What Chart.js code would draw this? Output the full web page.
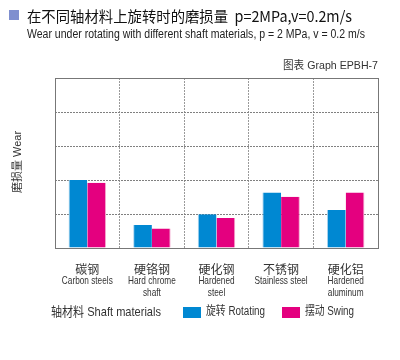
<!DOCTYPE html>
<html><head><meta charset="utf-8">
<script src="https://cdn.jsdelivr.net/npm/chart.js@4/dist/chart.umd.min.js"></script>
<style>html,body{margin:0;padding:0;background:#fff}canvas{display:block}</style>
</head><body><canvas id="c" width="400" height="360"></canvas>
<script>
// ---- data ----
const categoriesZh = ['碳钢', '硬铬钢', '硬化钢', '不锈钢', '硬化铝'];
const categoriesEn = [['Carbon steels'], ['Hard chrome', 'shaft'], ['Hardened', 'steel'], ['Stainless steel'], ['Hardened', 'aluminum']];
const rotating = [2.0, 0.68, 0.99, 1.63, 1.12];
const swing = [1.92, 0.57, 0.88, 1.51, 1.63];
const seriesNames = ['旋转 Rotating', '摆动 Swing'];
const yMin = 0, yMax = 5, yStep = 1;
const titleZh = '在不同轴材料上旋转时的磨损量  p=2MPa,v=0.2m/s';
const subtitle = 'Wear under rotating with different shaft materials, p = 2 MPa, v = 0.2 m/s';
const graphId = '图表 Graph EPBH-7';
const yTitle = '磨损量 Wear';
const xTitle = '轴材料 Shaft materials';

const BLUE = '#0088d2', PINK = '#e4007f';
const TXT = '#333';

function fitText(ctx, text, x, y, w, align) {
  const m = ctx.measureText(text).width;
  const s = w / m;
  ctx.save();
  ctx.textAlign = 'left';
  let x0 = align === 'right' ? x - w : (align === 'center' ? x - w / 2 : x);
  ctx.translate(x0, y);
  ctx.scale(s, 1);
  ctx.fillText(text, 0, 0);
  ctx.restore();
}
function narrowText(ctx, text, x, y, s) {
  ctx.save();
  ctx.translate(x, y);
  ctx.scale(s, 1);
  ctx.fillText(text, 0, 0);
  ctx.restore();
}

const decor = {
  id: 'decor',
  beforeDraw(chart) {
    const ctx = chart.ctx;
    ctx.save();
    ctx.fillStyle = '#fff';
    ctx.fillRect(0, 0, chart.width, chart.height);
    ctx.restore();
  },
  afterDraw(chart) {
    const ctx = chart.ctx;
    const a = chart.chartArea;
    const xs = chart.scales.x;
    ctx.save();
    // frame
    ctx.strokeStyle = '#777';
    ctx.lineWidth = 1;
    ctx.strokeRect(Math.round(a.left) + 0.5, Math.round(a.top) + 0.5, Math.round(a.right - a.left), Math.round(a.bottom - a.top));

    // title square
    ctx.fillStyle = '#7f8fcf';
    ctx.fillRect(9, 10, 10, 10);
    ctx.fillStyle = '#111';
    ctx.textBaseline = 'middle';
    ctx.font = "15px 'Noto Sans CJK SC'";
    fitText(ctx, titleZh, 27, 16, 325, 'left');
    ctx.fillStyle = '#222';
    ctx.font = "12px 'Liberation Sans Narrow','Liberation Sans'";
    fitText(ctx, subtitle, 27, 35, 338, 'left');
    ctx.fillStyle = TXT;
    ctx.font = "11px 'Liberation Sans Narrow','Liberation Sans','Noto Sans CJK SC'";
    fitText(ctx, graphId, 378, 66, 95, 'right');

    // y title
    ctx.save();
    ctx.translate(18, 162);
    ctx.rotate(-Math.PI / 2);
    ctx.font = "11px 'Liberation Sans Narrow','Liberation Sans','Noto Sans CJK SC'";
    ctx.textAlign = 'center';
    ctx.fillText(yTitle, 0, 0);
    ctx.restore();

    // x labels
    ctx.textAlign = 'center';
    categoriesZh.forEach((c, i) => {
      const x = xs.getPixelForValue(i);
      ctx.font = "12px 'Noto Sans CJK SC'";
      ctx.fillText(c, x, 269);
      ctx.font = "11px 'Liberation Sans Narrow','Liberation Sans'";
      categoriesEn[i].forEach((t, j) => narrowText(ctx, t, x, 281 + j * 12, 0.75));
    });

    // x title and legend
    ctx.textAlign = 'left';
    ctx.font = "13px 'Liberation Sans Narrow','Liberation Sans','Noto Sans CJK SC'";
    fitText(ctx, xTitle, 51, 312, 110, 'left');
    const leg = [[183, 206, 59], [282, 305, 49]];
    chart.data.datasets.forEach((ds, i) => {
      ctx.fillStyle = ds.backgroundColor;
      ctx.fillRect(leg[i][0], 307, 18, 11);
      ctx.fillStyle = TXT;
      ctx.font = "12px 'Liberation Sans Narrow','Liberation Sans','Noto Sans CJK SC'";
      fitText(ctx, ds.label, leg[i][1], 312, leg[i][2], 'left');
    });
    ctx.restore();
  }
};

new Chart(document.getElementById('c'), {
  type: 'bar',
  data: {
    labels: categoriesZh,
    datasets: [
      { label: seriesNames[0], data: rotating, backgroundColor: BLUE,
        borderColor: '#a9d3ee', borderWidth: { left: 1, top: 0, right: 0, bottom: 0 }, borderSkipped: false,
        barPercentage: 1, categoryPercentage: 0.58 },
      { label: seriesNames[1], data: swing, backgroundColor: PINK,
        borderColor: '#f3a6cc', borderWidth: { left: 0, top: 0, right: 1, bottom: 0 }, borderSkipped: false,
        barPercentage: 1, categoryPercentage: 0.58 }
    ]
  },
  options: {
    responsive: false,
    animation: false,
    events: [],
    layout: { padding: { left: 55, right: 22, top: 78, bottom: 112 } },
    plugins: { legend: { display: false }, tooltip: { enabled: false }, title: { display: false } },
    scales: {
      x: {
        ticks: { display: false },
        grid: { display: true, offset: true, color: '#9a9a9a', lineWidth: 1, drawTicks: false },
        border: { display: false, dash: [2, 1] }
      },
      y: {
        min: yMin, max: yMax,
        ticks: { display: false, stepSize: yStep },
        grid: { color: '#808080', lineWidth: 1, drawTicks: false },
        border: { display: false, dash: [2, 1] }
      }
    }
  },
  plugins: [decor]
});
</script>
</body></html>
